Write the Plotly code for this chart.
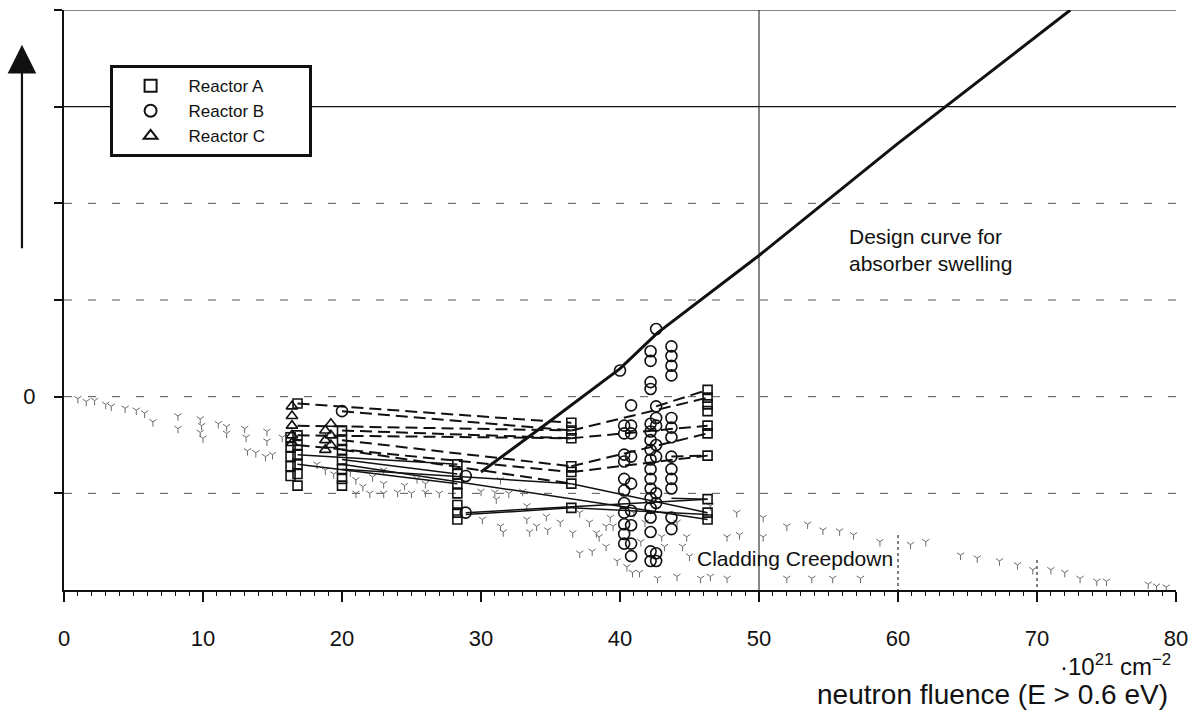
import plotly.graph_objects as go

# ---------------- data ----------------
# Reactor A (squares)
A_X = ([16.3] * 5 + [16.8] * 7 + [20.0] * 7 + [28.3] * 7 + [36.5] * 7 + [46.3] * 10)
A_Y = ([-0.42, -0.52, -0.62, -0.72, -0.82] +
       [-0.07, -0.40, -0.50, -0.60, -0.70, -0.80, -0.92] +
       [-0.35, -0.45, -0.55, -0.65, -0.75, -0.85, -0.92] +
       [-0.70, -0.80, -0.90, -1.00, -1.12, -1.20, -1.27] +
       [-0.27, -0.35, -0.43, -0.72, -0.78, -0.90, -1.15] +
       [0.07, -0.01, -0.08, -0.15, -0.30, -0.38, -0.61, -1.06, -1.20, -1.27])

# Reactor B (circles)
B_X = ([20.0] + [28.9] * 2 + [40.0] + [40.3] * 11 + [40.8] * 9 + [42.2] * 18 +
       [42.6] * 10 + [43.7] * 13)
B_Y = ([-0.15] + [-0.82, -1.20] + [0.27] +
       [-0.30, -0.38, -0.60, -0.67, -0.85, -0.97, -1.10, -1.20, -1.32, -1.42, -1.52] +
       [-0.09, -0.30, -0.38, -0.62, -0.90, -1.18, -1.33, -1.52, -1.65] +
       [0.47, 0.37, 0.15, 0.08, -0.28, -0.36, -0.45, -0.55, -0.65, -0.75, -0.85,
        -0.95, -1.05, -1.15, -1.25, -1.40, -1.60, -1.70] +
       [0.70, -0.10, -0.22, -0.30, -0.50, -0.62, -1.00, -1.10, -1.62, -1.70] +
       [0.52, 0.42, 0.32, 0.22, -0.22, -0.32, -0.42, -0.62, -0.75, -0.85, -0.95,
        -1.25, -1.37])

# Reactor C (triangles)
C_X = [16.4] * 5 + [18.8] * 3 + [19.2] * 3
C_Y = [-0.10, -0.20, -0.30, -0.40, -0.48, -0.35, -0.45, -0.55, -0.28, -0.40, -0.50]

# specimen histories (segments: start fluence, start value, end fluence, end value)
DASH_X0 = [16.8, 20.0, 36.5, 36.5, 16.8, 20.0, 16.8, 36.5, 36.5, 20.0, 42.6, 43.7, 16.8, 20.0]
DASH_Y0 = [-0.07, -0.15, -0.35, -0.43, -0.40, -0.45, -0.50, -0.72, -0.78, -0.55, -0.10, -0.62, -0.30, -0.35]
DASH_X1 = [36.5, 36.5, 46.3, 46.3, 36.5, 36.5, 36.5, 46.3, 46.3, 36.5, 46.3, 46.3, 36.5, 36.5]
DASH_Y1 = [-0.27, -0.35, -0.01, -0.30, -0.43, -0.72, -0.78, -0.38, -0.61, -0.90, 0.07, -0.61, -0.35, -0.43]

SOLID_X0 = [16.8, 20.0, 20.0, 36.5, 28.9, 28.9, 36.5, 20.0, 43.7, 16.8]
SOLID_Y0 = [-0.60, -0.65, -0.75, -0.90, -1.20, -1.22, -1.15, -0.70, -1.05, -0.70]
SOLID_X1 = [28.3, 28.3, 36.5, 46.3, 46.3, 36.5, 46.3, 46.3, 46.3, 28.3]
SOLID_Y1 = [-0.70, -0.80, -0.90, -1.20, -1.06, -1.15, -1.22, -1.27, -1.06, -0.90]

# design curve for absorber swelling
DESIGN_X = [30.0, 35.0, 40.0, 42.7, 50.0, 60.0, 72.4]
DESIGN_Y = [-0.78, -0.25, 0.29, 0.66, 1.46, 2.62, 4.0]

# cladding creepdown scatter (stipple)
CREEP_X = [1.0, 1.6, 2.2, 3.0, 3.4, 4.4, 5.2, 5.8, 6.4, 8.2, 8.2, 9.8, 9.9, 9.8, 10.0,
           11.1, 11.7, 11.7, 13.0, 13.1, 13.2, 13.8, 14.6, 14.6, 14.5, 15.0, 15.7,
           18.2, 18.8, 19.4, 20.6, 21.0, 21.5, 22.2, 23.0, 23.0, 24.5, 25.4, 26.0,
           21.0, 22.0, 23.0, 24.0, 25.0, 26.0, 27.0, 30.0, 31.0, 32.0, 33.0,
           30.1, 31.4, 31.6, 31.4, 31.1, 33.3, 33.3, 33.5, 34.0, 34.7, 34.8, 35.7,
           36.6, 37.1, 37.8, 38.3, 37.1, 38.0, 39.0, 39.5, 39.8, 40.5, 40.9, 41.4,
           42.7, 44.1, 44.1, 44.8, 45.8, 46.5, 46.5, 47.7, 47.7, 48.4, 48.6, 50.3,
           50.3, 52.0, 52.0, 53.5, 53.8, 54.6, 55.3, 55.8, 56.8, 57.3, 58.7, 60.9,
           62.0, 64.5, 65.7, 67.3, 68.6, 69.7, 71.0, 72.0, 73.1, 74.3, 75.0, 78.0,
           78.6, 79.3, 38.5, 39.0, 39.3, 41.5, 41.8, 43.0, 43.2, 44.5, 45.0, 41.0]
CREEP_Y = [-0.02, -0.05, -0.04, -0.08, -0.10, -0.12, -0.14, -0.17, -0.26, -0.20, -0.33,
           -0.23, -0.30, -0.37, -0.43, -0.28, -0.31, -0.38, -0.33, -0.42, -0.56, -0.58,
           -0.36, -0.46, -0.62, -0.60, -0.42, -0.70, -0.76, -0.80, -0.78, -0.86, -0.93,
           -0.83, -0.76, -0.90, -0.92, -0.85, -0.90,
           -1.00, -1.00, -1.00, -0.99, -1.00, -0.99, -1.00, -0.98, -0.99, -1.00, -0.98,
           -1.27, -1.34, -1.40, -0.86, -1.06, -1.13, -1.27, -1.40, -1.34, -1.24, -1.38,
           -1.30, -1.41, -1.20, -1.30, -1.41, -1.62, -1.60, -1.34, -1.34, -1.70, -1.76,
           -1.82, -1.82, -1.88, -1.86, -1.30, -1.45, -1.88, -1.13, -1.86, -1.45, -1.88,
           -1.20, -1.43, -1.25, -1.45, -1.34, -1.88, -1.32, -1.88, -1.38, -1.88, -1.39,
           -1.43, -1.88, -1.50, -1.53, -1.50, -1.64, -1.67, -1.70, -1.74, -1.79, -1.79,
           -1.82, -1.88, -1.91, -1.91, -1.94, -1.96, -1.97, -1.45, -1.55, -1.25, -1.50,
           -1.30, -1.45, -1.55, -1.55, -1.65, -1.20]

# boundary markers of the creepdown band
BOUND_X = [60, 70]
BOUND_YTOP = [-1.43, -1.69]

# grid levels
SOLID_GRID_Y = [3, 4]
DASHED_GRID_Y = [-1, 0, 1, 2]
REF_FLUENCE = 50
X_TICKS = [0, 10, 20, 30, 40, 50, 60, 70, 80]
Y_TICKS = [-1, 0, 1, 2, 3, 4]
Y_TICKTEXT = ["", "0", "", "", "", ""]
SERIES_NAMES = ["Reactor A", "Reactor B", "Reactor C"]

FONT = "Liberation Sans, Arial, Helvetica, sans-serif"
PAD = "\u00a0" * 8  # widens the legend box to the reference width


def segs(x0, y0, x1, y1):
    xs, ys = [], []
    for a, b, c, d in zip(x0, y0, x1, y1):
        xs += [a, c, None]
        ys += [b, d, None]
    return xs, ys


fig = go.Figure()

# grid lines
for g in DASHED_GRID_Y:
    fig.add_shape(type="line", xref="paper", x0=0, x1=1, yref="y", y0=g, y1=g,
                  line=dict(color="#555", width=1, dash="8px,16px"), layer="below")
for g in SOLID_GRID_Y:
    fig.add_shape(type="line", xref="paper", x0=-0.008, x1=1, yref="y", y0=g, y1=g,
                  line=dict(color="#111", width=1.2), layer="below")
fig.add_shape(type="line", xref="x", x0=REF_FLUENCE, x1=REF_FLUENCE, yref="paper",
              y0=0, y1=1, line=dict(color="#111", width=1), layer="below")

# creepdown stipple
fig.add_trace(go.Scatter(x=CREEP_X, y=CREEP_Y, mode="markers", showlegend=False,
                         marker=dict(symbol="y-down-open", size=6, color="#6a6a6a",
                                     line=dict(color="#6a6a6a", width=1)),
                         hoverinfo="skip"))
bx, by = [], []
for xv, yt in zip(BOUND_X, BOUND_YTOP):
    bx += [xv, xv, None]
    by += [yt, -2, None]
fig.add_trace(go.Scatter(x=bx, y=by, mode="lines", showlegend=False,
                         line=dict(color="#555", width=1.5, dash="dot")))

# specimen histories
dx, dy = segs(DASH_X0, DASH_Y0, DASH_X1, DASH_Y1)
fig.add_trace(go.Scatter(x=dx, y=dy, mode="lines", showlegend=False,
                         line=dict(color="#111", width=2, dash="12px,6px")))
sx, sy = segs(SOLID_X0, SOLID_Y0, SOLID_X1, SOLID_Y1)
fig.add_trace(go.Scatter(x=sx, y=sy, mode="lines", showlegend=False,
                         line=dict(color="#111", width=1.5)))

# design curve
fig.add_trace(go.Scatter(x=DESIGN_X, y=DESIGN_Y, mode="lines", showlegend=False,
                         line=dict(color="#111", width=3)))

# measured data
fig.add_trace(go.Scatter(x=A_X, y=A_Y, mode="markers", name=SERIES_NAMES[0] + PAD,
                         marker=dict(symbol="square-open", size=9, color="#111",
                                     line=dict(width=1.6))))
fig.add_trace(go.Scatter(x=B_X, y=B_Y, mode="markers", name=SERIES_NAMES[1] + PAD,
                         marker=dict(symbol="circle-open", size=11, color="#111",
                                     line=dict(width=1.6))))
fig.add_trace(go.Scatter(x=C_X, y=C_Y, mode="markers", name=SERIES_NAMES[2] + PAD,
                         marker=dict(symbol="triangle-up-open", size=10, color="#111",
                                     line=dict(width=1.6))))

fig.update_layout(
    width=1203, height=710,
    margin=dict(l=64, r=27, t=10, b=120),
    paper_bgcolor="white", plot_bgcolor="white",
    font=dict(family=FONT, color="#111", size=20),
    showlegend=True,
    legend=dict(x=0.041, y=0.905, xanchor="left", yanchor="top",
                bgcolor="white", bordercolor="#111", borderwidth=3,
                font=dict(size=17, family=FONT), itemsizing="constant",
                tracegroupgap=0, itemwidth=66),
    xaxis=dict(range=[0, 80], tickvals=X_TICKS, showgrid=False, zeroline=False,
               showline=True, linecolor="#111", linewidth=2,
               ticks="outside", ticklen=10, tickwidth=2, tickcolor="#111",
               minor=dict(dtick=1, ticks="outside", ticklen=4, tickwidth=1.2,
                          tickcolor="#111"),
               ticklabelstandoff=18, tickfont=dict(size=22)),
    yaxis=dict(range=[-2, 4], tickvals=Y_TICKS, ticktext=Y_TICKTEXT, showgrid=False,
               zeroline=False, showline=True, linecolor="#111", linewidth=2,
               ticks="outside", ticklen=8, tickwidth=2, tickcolor="#111",
               ticklabelstandoff=14, tickfont=dict(size=22)),
    annotations=[
        dict(text="Design curve for<br>absorber swelling", x=56.3, y=1.52, xref="x",
             yref="y", xanchor="left", yanchor="middle", align="left",
             showarrow=False, font=dict(size=21)),
        dict(text="Cladding Creepdown", x=52.6, y=-1.67, xref="x", yref="y",
             xanchor="center", yanchor="middle", showarrow=False,
             font=dict(size=21)),
        dict(text="·10<sup>21</sup> cm<sup>−2</sup>", x=0.997, y=-0.13, xref="paper",
             yref="paper", xanchor="right", yanchor="middle", showarrow=False,
             font=dict(size=24)),
        dict(text="neutron fluence (E &gt; 0.6 eV)", x=0.995, y=-0.18, xref="paper",
             yref="paper", xanchor="right", yanchor="middle", showarrow=False,
             font=dict(size=28)),
        dict(text="", x=-0.0378, y=0.94, xref="paper", yref="paper",
             showarrow=True, ax=0, ay=205, arrowhead=2, arrowsize=2.6,
             arrowwidth=2.2, arrowcolor="#111"),
    ],
)

fig.write_html("out.html")
